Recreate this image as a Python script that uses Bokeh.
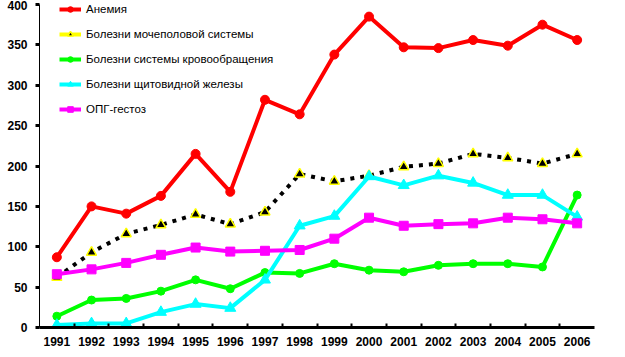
from bokeh.plotting import figure
from bokeh.models import FixedTicker, Legend, LegendItem
from bokeh.embed import file_html
from bokeh.resources import INLINE

years = [1991, 1992, 1993, 1994, 1995, 1996, 1997, 1998, 1999, 2000, 2001, 2002, 2003, 2004, 2005, 2006]
anemia = [87, 150, 141, 163, 215, 168, 282, 264, 338, 385, 347, 346, 356, 349, 375, 356]
urogenital = [62, 93, 116, 127, 140, 128, 143, 190, 181, 188, 199, 203, 215, 210, 203, 215]
circulatory = [14, 34, 36, 45, 59, 48, 68, 67, 79, 71, 69, 77, 79, 79, 75, 164]
thyroid = [3, 5, 5, 19, 29, 24, 59, 126, 138, 187, 176, 188, 179, 164, 164, 137]
gestosis = [66, 72, 80, 90, 99, 94, 95, 96, 110, 136, 126, 128, 129, 136, 134, 129]
labels = ["Анемия", "Болезни мочеполовой системы", "Болезни системы кровообращения",
          "Болезни щитовидной железы", "ОПГ-гестоз"]
y_ticks = [0, 50, 100, 150, 200, 250, 300, 350, 400]

p = figure(width=608, height=348, output_backend="svg", toolbar_location=None,
           x_range=(years[0] - 0.5, years[-1] + 0.5), y_range=(0, 400),
           min_border_top=4, min_border_right=14, min_border_left=39, min_border_bottom=5)
p.xgrid.visible = False
p.ygrid.visible = False
p.outline_line_color = None

items = []
r1 = p.line(years, anemia, line_color="#ff0000", line_width=4)
m1 = p.scatter(years, anemia, marker="circle", size=9, fill_color="#ff0000", line_color="#ff0000")
items.append(LegendItem(label=labels[0], renderers=[r1, m1]))
r2 = p.line(years, urogenital, line_color="black", line_width=4, line_dash="4 6")
m2 = p.scatter(years, urogenital, marker="triangle", size=10, fill_color="black", line_color="#ffff00", line_width=1.5)
# legend key: yellow bar (a one-point line draws nothing in the plot area)
r2_key = p.line(years[:1], urogenital[:1], line_color="#ffff00", line_width=4)
items.append(LegendItem(label=labels[1], renderers=[r2_key, m2]))
r3 = p.line(years, circulatory, line_color="#00ff00", line_width=4)
m3 = p.scatter(years, circulatory, marker="circle", size=8, fill_color="#00ff00", line_color="#00ff00")
items.append(LegendItem(label=labels[2], renderers=[r3, m3]))
r4 = p.line(years, thyroid, line_color="#00ffff", line_width=4)
m4 = p.scatter(years, thyroid, marker="triangle", size=11, fill_color="#00ffff", line_color="#00ffff")
items.append(LegendItem(label=labels[3], renderers=[r4, m4]))
r5 = p.line(years, gestosis, line_color="#ff00ff", line_width=4)
m5 = p.scatter(years, gestosis, marker="square", size=9, fill_color="#ff00ff", line_color="#ff00ff")
items.append(LegendItem(label=labels[4], renderers=[r5, m5]))

legend = Legend(items=items, location=(20, 211))
legend.margin = 0
legend.padding = 0
legend.spacing = 11
legend.glyph_width = 22
legend.glyph_height = 14
legend.label_height = 14
legend.label_standoff = 5
legend.label_text_font = "Liberation Sans"
legend.label_text_font_size = "11.5px"
legend.label_text_color = "black"
legend.background_fill_alpha = 0
legend.border_line_color = None
p.add_layout(legend)

xa = p.xaxis[0]
xa.ticker = FixedTicker(ticks=years, minor_ticks=[y + 0.5 for y in years[:-1]])
xa.major_label_overrides = {y: str(y) for y in years}
xa.major_tick_line_color = None
xa.minor_tick_in = 4
xa.minor_tick_out = 0
xa.minor_tick_line_width = 2
xa.minor_tick_line_color = "black"
xa.axis_line_width = 3
xa.axis_line_color = "black"
xa.major_label_text_font = "Liberation Sans"
xa.major_label_text_font_style = "bold"
xa.major_label_text_font_size = "12px"
xa.major_label_text_color = "black"
xa.major_label_standoff = 3

ya = p.yaxis[0]
ya.ticker = FixedTicker(ticks=y_ticks)
ya.minor_tick_line_color = None
ya.major_tick_in = 0
ya.major_tick_out = 4
ya.major_tick_line_width = 3
ya.major_tick_line_color = "black"
ya.axis_line_color = "black"
ya.axis_line_width = 1
ya.major_label_text_font = "Liberation Sans"
ya.major_label_text_font_style = "bold"
ya.major_label_text_font_size = "12px"
ya.major_label_text_color = "black"
ya.major_label_standoff = 8

open("out.html", "w").write(file_html(p, INLINE))
